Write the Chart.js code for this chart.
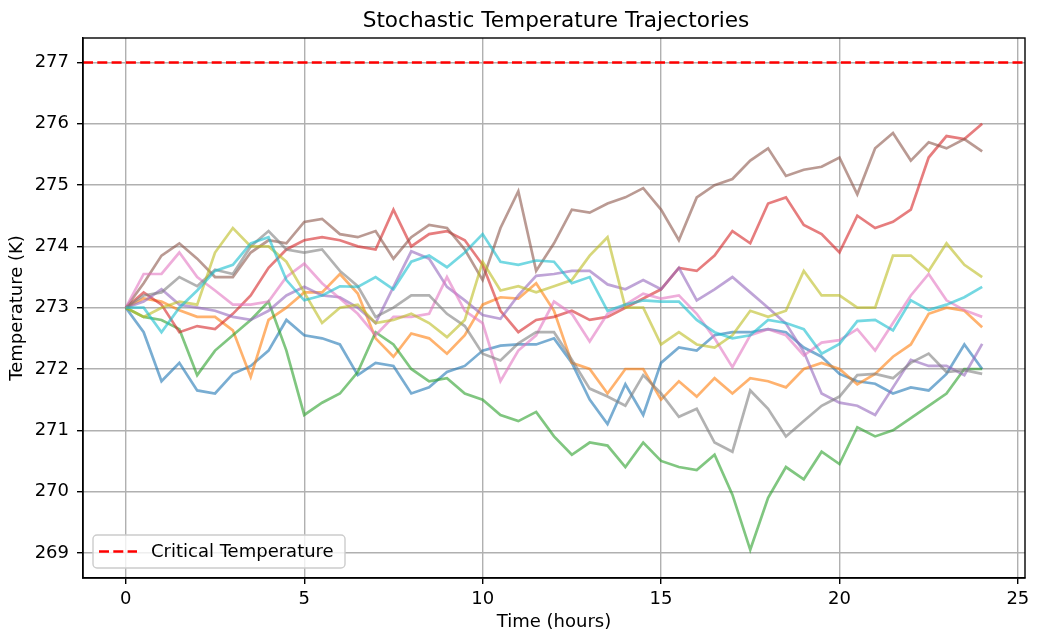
<!DOCTYPE html>
<html>
<head>
<meta charset="utf-8">
<script src="https://cdn.jsdelivr.net/npm/chart.js@4.4.1/dist/chart.umd.min.js"></script>
<style>
  html, body { margin: 0; padding: 0; background: #fff; }
  #wrap { width: 1037px; height: 641px; }
</style>
</head>
<body>
<div id="wrap"><canvas id="tempChart" width="1037" height="641"></canvas></div>
<script>
// time axis, one reading every half hour
var hours = [0, 0.5, 1, 1.5, 2, 2.5, 3, 3.5, 4, 4.5, 5, 5.5, 6, 6.5, 7, 7.5, 8, 8.5, 9, 9.5,
  10, 10.5, 11, 11.5, 12, 12.5, 13, 13.5, 14, 14.5, 15, 15.5, 16, 16.5, 17, 17.5, 18, 18.5, 19, 19.5,
  20, 20.5, 21, 21.5, 22, 22.5, 23, 23.5, 24];

// the ten trajectories (K)
var blueTemps = [273.0, 272.6, 271.8, 272.1, 271.65, 271.6, 271.92, 272.05, 272.3, 272.8, 272.55, 272.5, 272.4, 271.9, 272.1, 272.05, 271.6, 271.7, 271.95, 272.05,
  272.3, 272.38, 272.4, 272.4, 272.5, 272.1, 271.5, 271.1, 271.75, 271.25, 272.1, 272.35, 272.3, 272.55, 272.6, 272.6, 272.65, 272.6, 272.35, 272.2,
  271.92, 271.8, 271.76, 271.6, 271.7, 271.65, 271.92, 272.4, 272.0];
var orangeTemps = [273.0, 273.15, 273.1, 272.96, 272.85, 272.85, 272.63, 271.87, 272.8, 273.0, 273.25, 273.25, 273.55, 273.23, 272.5, 272.2, 272.58, 272.5, 272.25, 272.55,
  273.05, 273.17, 273.15, 273.4, 272.95, 272.1, 272.0, 271.6, 272.0, 272.0, 271.5, 271.8, 271.55, 271.85, 271.6, 271.85, 271.8, 271.7, 272.0, 272.1,
  272.0, 271.75, 271.92, 272.2, 272.4, 272.9, 273.0, 272.95, 272.68];
var greenTemps = [273.0, 272.85, 272.8, 272.65, 271.9, 272.3, 272.55, 272.8, 273.1, 272.3, 271.25, 271.45, 271.6, 271.95, 272.6, 272.4, 272.0, 271.8, 271.85, 271.6,
  271.5, 271.25, 271.15, 271.3, 270.9, 270.6, 270.8, 270.75, 270.4, 270.8, 270.5, 270.4, 270.35, 270.6, 269.95, 269.05, 269.9, 270.4, 270.2, 270.65,
  270.45, 271.05, 270.9, 271.0, 271.2, 271.4, 271.6, 272.0, 272.0];
var redTemps = [273.0, 273.25, 273.05, 272.6, 272.7, 272.65, 272.9, 273.2, 273.65, 273.95, 274.1, 274.15, 274.1, 274.0, 273.95, 274.6, 274.0, 274.2, 274.25, 274.1,
  273.7, 272.95, 272.6, 272.8, 272.85, 272.95, 272.8, 272.85, 273.0, 273.15, 273.3, 273.65, 273.6, 273.85, 274.25, 274.05, 274.7, 274.8, 274.35, 274.2,
  273.9, 274.5, 274.3, 274.4, 274.6, 275.45, 275.8, 275.75, 276.0];
var purpleTemps = [273.0, 273.1, 273.3, 273.05, 273.0, 272.95, 272.85, 272.8, 272.95, 273.2, 273.34, 273.2, 273.17, 273.0, 272.75, 273.34, 273.92, 273.8, 273.34, 273.12,
  272.88, 272.82, 273.2, 273.52, 273.55, 273.6, 273.6, 273.38, 273.3, 273.45, 273.3, 273.65, 273.12, 273.3, 273.5, 273.25, 273.0, 272.74, 272.28, 271.6,
  271.45, 271.4, 271.25, 271.7, 272.15, 272.05, 272.05, 271.9, 272.41];
var brownTemps = [273.0, 273.4, 273.85, 274.05, 273.8, 273.5, 273.5, 273.9, 274.1, 274.05, 274.4, 274.45, 274.2, 274.15, 274.25, 273.8, 274.15, 274.35, 274.3, 273.95,
  273.45, 274.3, 274.9, 273.6, 274.05, 274.6, 274.55, 274.7, 274.8, 274.95, 274.6, 274.1, 274.8, 275.0, 275.1, 275.4, 275.6, 275.15, 275.25, 275.3,
  275.45, 274.85, 275.6, 275.85, 275.4, 275.7, 275.6, 275.75, 275.55];
var pinkTemps = [273.0, 273.55, 273.55, 273.9, 273.5, 273.28, 273.05, 273.05, 273.1, 273.5, 273.72, 273.4, 273.15, 272.9, 272.55, 272.85, 272.85, 272.9, 273.5, 272.95,
  272.75, 271.8, 272.3, 272.55, 273.1, 272.9, 272.45, 272.9, 273.05, 273.23, 273.15, 273.2, 272.9, 272.5, 272.03, 272.55, 272.65, 272.55, 272.22, 272.43,
  272.47, 272.65, 272.3, 272.75, 273.2, 273.55, 273.12, 272.96, 272.85];
var grayTemps = [273.0, 273.2, 273.25, 273.5, 273.35, 273.62, 273.55, 274.0, 274.25, 273.95, 273.9, 273.95, 273.6, 273.35, 272.85, 273.0, 273.2, 273.2, 272.9, 272.7,
  272.25, 272.14, 272.42, 272.6, 272.6, 272.15, 271.68, 271.55, 271.4, 271.9, 271.6, 271.22, 271.35, 270.8, 270.65, 271.65, 271.35, 270.9, 271.15, 271.4,
  271.55, 271.9, 271.92, 271.85, 272.1, 272.25, 271.95, 271.98, 271.92];
var oliveTemps = [273.0, 272.85, 273.0, 273.1, 273.05, 273.9, 274.3, 274.0, 274.0, 273.75, 273.25, 272.75, 273.0, 273.05, 272.75, 272.8, 272.9, 272.75, 272.52, 272.8,
  273.75, 273.28, 273.35, 273.25, 273.35, 273.45, 273.85, 274.15, 273.0, 273.0, 272.4, 272.6, 272.4, 272.35, 272.55, 272.95, 272.85, 272.95, 273.6, 273.2,
  273.2, 273.0, 273.0, 273.85, 273.85, 273.6, 274.05, 273.7, 273.5];
var cyanTemps = [273.0, 273.0, 272.6, 273.0, 273.28, 273.6, 273.7, 274.05, 274.15, 273.45, 273.12, 273.2, 273.35, 273.34, 273.5, 273.3, 273.75, 273.85, 273.66, 273.9,
  274.2, 273.75, 273.7, 273.77, 273.75, 273.4, 273.5, 272.95, 273.05, 273.12, 273.1, 273.1, 272.8, 272.6, 272.5, 272.55, 272.8, 272.75, 272.65, 272.25,
  272.41, 272.78, 272.8, 272.63, 273.12, 272.96, 273.05, 273.17, 273.34];

var criticalTemp = 277;
var xTicks = [0, 5, 10, 15, 20, 25];
var yTicks = [269, 270, 271, 272, 273, 274, 275, 276, 277];

var trajectories = [blueTemps, orangeTemps, greenTemps, redTemps, purpleTemps,
  brownTemps, pinkTemps, grayTemps, oliveTemps, cyanTemps];
var lineColors = [
  "rgba(31, 119, 180, 0.6)", "rgba(255, 127, 14, 0.6)", "rgba(44, 160, 44, 0.6)",
  "rgba(214, 39, 40, 0.6)", "rgba(148, 103, 189, 0.6)", "rgba(140, 86, 75, 0.6)",
  "rgba(227, 119, 194, 0.6)", "rgba(127, 127, 127, 0.6)", "rgba(188, 189, 34, 0.6)",
  "rgba(23, 190, 207, 0.6)"
];

Chart.defaults.font.family = "DejaVu Sans";
Chart.defaults.color = "#000";

var datasets = trajectories.map(function (temps, i) {
  return {
    label: "Trajectory " + (i + 1),
    data: temps.map(function (t, j) { return { x: hours[j], y: t }; }),
    borderColor: lineColors[i],
    borderWidth: 2.7,
    pointRadius: 0,
    tension: 0,
    order: 10 - i
  };
});
datasets.push({
  label: "Critical Temperature",
  data: [{ x: -1.2, y: criticalTemp }, { x: 25.2, y: criticalTemp }],
  borderColor: "#ff0000",
  borderWidth: 2.7,
  borderDash: [10, 4.3],
  pointRadius: 0,
  order: 0
});

// title, closed frame and the legend box inside the plot
var decorations = {
  id: "decorations",
  afterDraw: function (chart) {
    var ctx = chart.ctx;
    var area = chart.chartArea;
    ctx.save();
    ctx.strokeStyle = "#000";
    ctx.lineWidth = 1.4;
    ctx.strokeRect(area.left, area.top, area.right - area.left, area.bottom - area.top);

    ctx.fillStyle = "#000";
    ctx.font = "21.6px 'DejaVu Sans'";
    ctx.textAlign = "center";
    ctx.textBaseline = "alphabetic";
    ctx.fillText("Stochastic Temperature Trajectories", (area.left + area.right) / 2 + 2, 27);

    var bx = 93, by = 535, bw = 252, bh = 33, r = 4;
    ctx.beginPath();
    ctx.moveTo(bx + r, by);
    ctx.arcTo(bx + bw, by, bx + bw, by + bh, r);
    ctx.arcTo(bx + bw, by + bh, bx, by + bh, r);
    ctx.arcTo(bx, by + bh, bx, by, r);
    ctx.arcTo(bx, by, bx + bw, by, r);
    ctx.closePath();
    ctx.fillStyle = "rgba(255, 255, 255, 0.8)";
    ctx.fill();
    ctx.strokeStyle = "#cccccc";
    ctx.lineWidth = 1.4;
    ctx.stroke();

    ctx.beginPath();
    ctx.setLineDash([10, 4.3]);
    ctx.strokeStyle = "#ff0000";
    ctx.lineWidth = 2.7;
    ctx.moveTo(99, 551.5);
    ctx.lineTo(137, 551.5);
    ctx.stroke();
    ctx.setLineDash([]);

    ctx.fillStyle = "#000";
    ctx.font = "18px 'DejaVu Sans'";
    ctx.textAlign = "left";
    ctx.textBaseline = "middle";
    ctx.fillText("Critical Temperature", 151, 552);
    ctx.restore();
  }
};

var chart = new Chart("tempChart", {
  type: "line",
  data: { datasets: datasets },
  plugins: [decorations],
  options: {
    responsive: false,
    animation: false,
    layout: { padding: { top: 38, right: 12, bottom: 0, left: 0 } },
    plugins: {
      legend: { display: false },
      title: { display: false },
      tooltip: { enabled: false }
    },
    scales: {
      x: {
        type: "linear",
        min: -1.2,
        max: 25.2,
        afterBuildTicks: function (scale) {
          scale.ticks = xTicks.map(function (v) { return { value: v }; });
        },
        afterFit: function (scale) { scale.height = 63; },
        ticks: { font: { size: 18 }, color: "#000", padding: 5, maxRotation: 0, autoSkip: false },
        grid: { color: "#b0b0b0", lineWidth: 1.4, tickLength: 6, tickColor: "#000", tickWidth: 1.4 },
        border: { display: true, color: "#000", width: 1.4 },
        title: { display: true, text: "Time (hours)", font: { size: 18 }, color: "#000", padding: { top: 0, bottom: 8 } }
      },
      y: {
        type: "linear",
        min: 268.59,
        max: 277.40,
        afterBuildTicks: function (scale) {
          scale.ticks = yTicks.map(function (v) { return { value: v }; });
        },
        afterFit: function (scale) { scale.width = 83; },
        ticks: { font: { size: 18 }, color: "#000", padding: 8 },
        grid: { color: "#b0b0b0", lineWidth: 1.4, tickLength: 6, tickColor: "#000", tickWidth: 1.4 },
        border: { display: true, color: "#000", width: 1.4 },
        title: { display: true, text: "Temperature (K)", font: { size: 18 }, color: "#000", padding: { top: 7, bottom: 0 } }
      }
    }
  }
});
</script>
</body>
</html>
